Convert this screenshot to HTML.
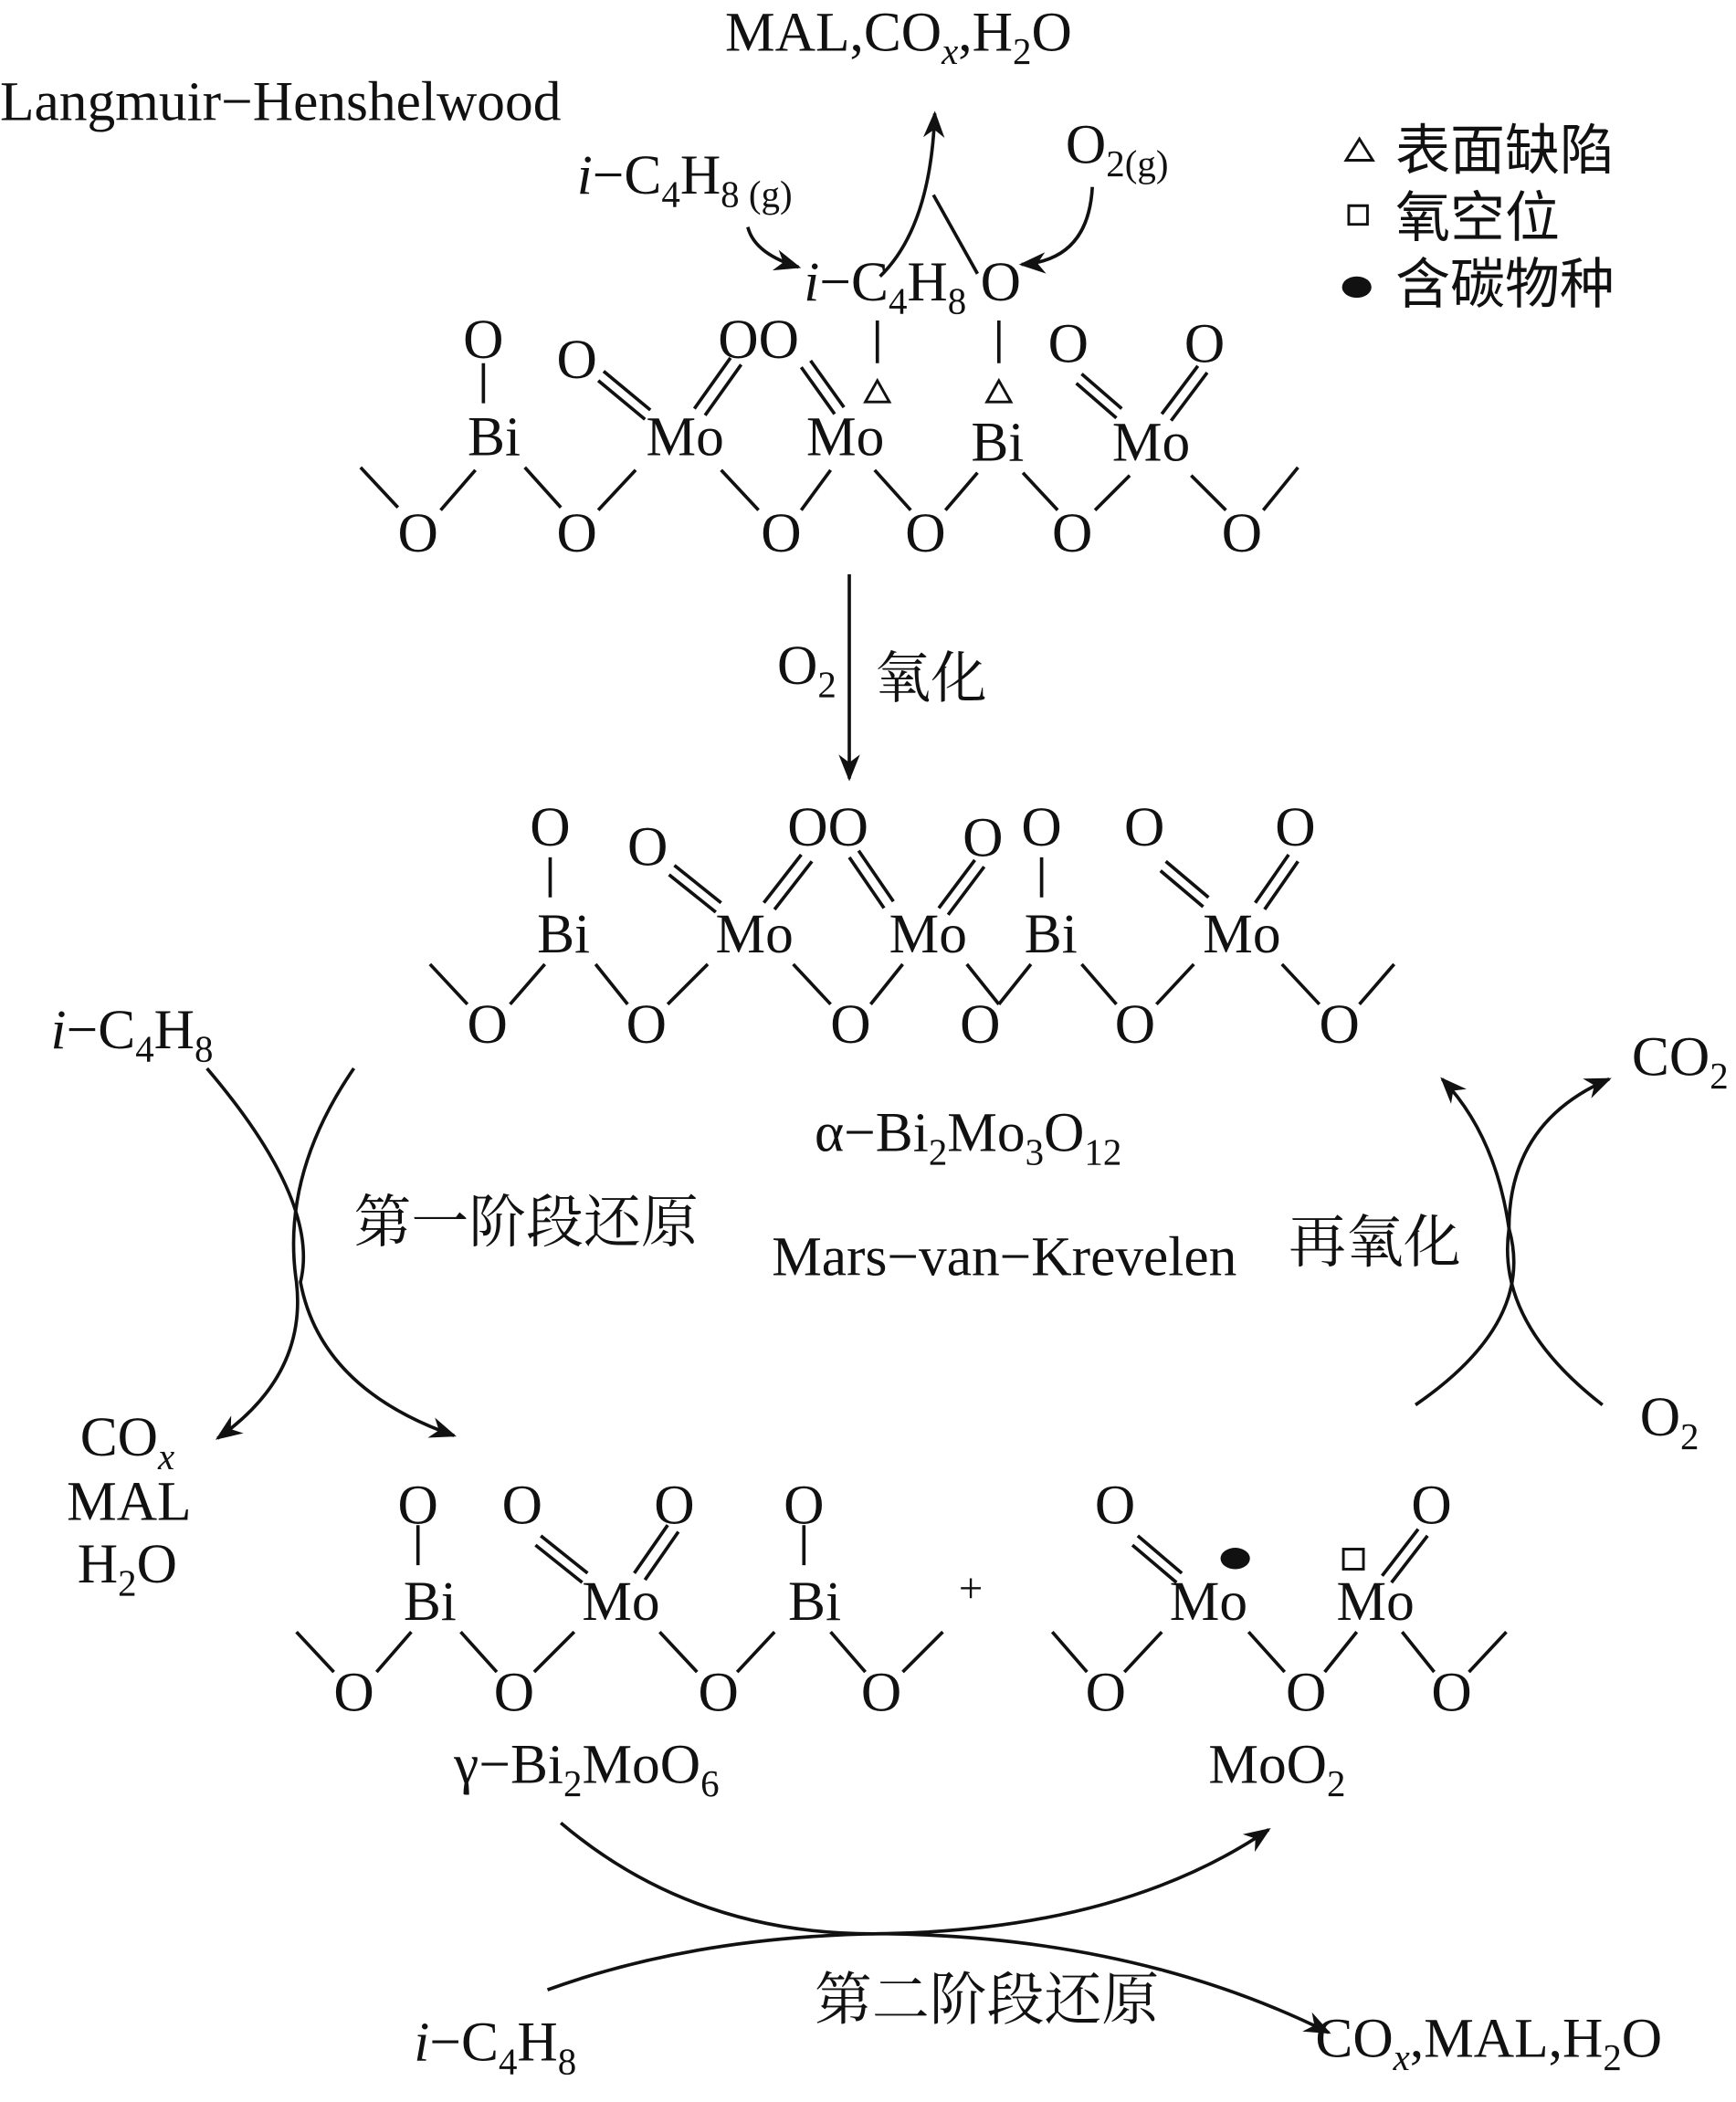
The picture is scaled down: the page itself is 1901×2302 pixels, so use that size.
<!DOCTYPE html>
<html><head><meta charset="utf-8"><style>html,body{margin:0;padding:0;background:#fff}svg{display:block}</style></head>
<body>
<svg width="1901" height="2302" viewBox="0 0 1300 1574" preserveAspectRatio="none" xmlns="http://www.w3.org/2000/svg" font-family="Liberation Serif, Noto Serif CJK SC, serif" font-size="42" fill="#111">
<defs>
<marker id="b" viewBox="0 0 10 10" refX="9" refY="5" markerWidth="20" markerHeight="20" orient="auto" markerUnits="userSpaceOnUse"><path d="M0,1 L10,5 L0,9 L3,5 z" fill="#111"/></marker></defs>
<g stroke="#111" stroke-width="2.5" fill="none">
<path d="M659,207 Q697,170 700,85" marker-end="url(#b)"/>
<path d="M699,146 L732,205"/>
<path d="M560,170 Q565,190 598,200" marker-end="url(#b)"/>
<path d="M818,140 Q815,195 765,198" marker-end="url(#b)"/>
<path d="M270,350 L298,380 M330,382 L356,352 M393,350 L420,380 M448,382 L476,352 M540,352 L568,382 M600,382 L622,352 M655,352 L682,382 M708,382 L732,354 M766,354 L792,382 M820,382 L846,356 M892,356 L918,382 M946,382 L972,350"/>
<path d="M362,272 L362,302 M657,240 L657,272 M748,240 L748,272"/>
<path d="M452,278 L487,307 M448,285 L483,314 M520,306 L547,268 M528,311 L555,273 M600,275 L625,310 M607,270 L632,305 M810,280 L840,306 M806,287 L836,313 M870,310 L897,274 M877,315 L904,279"/>
<path d="M648,301 L657,285 L666,301 Z M739,301 L748,285 L757,301 Z" stroke-width="2"/>
<path d="M636,430 L636,583" marker-end="url(#b)"/>
<path d="M322,722 L350,752 M382,752 L408,722 M446,722 L470,752 M500,752 L530,722 M594,722 L622,752 M652,752 L676,722 M724,722 L748,752 M748,752 L772,722 M810,722 L836,752 M866,752 L894,722 M960,722 L988,752 M1018,752 L1044,722"/>
<path d="M412,642 L412,672 M780,642 L780,672"/>
<path d="M505,648 L540,676 M501,655 L536,683 M572,676 L600,640 M580,681 L608,645 M636,642 L662,680 M643,637 L669,675 M703,680 L730,644 M710,685 L737,649 M873,645 L905,672 M869,652 L901,679 M940,676 L965,640 M947,681 L972,645"/>
<path d="M155,800 Q240,900 225,960 Q240,1040 340,1075" marker-end="url(#b)"/>
<path d="M265,800 Q210,880 222,960 Q230,1030 163,1077" marker-end="url(#b)"/>
<path d="M1060,1052 Q1150,990 1130,920 Q1120,850 1080,808" marker-end="url(#b)"/>
<path d="M1200,1052 Q1120,990 1130,920 Q1130,840 1205,808" marker-end="url(#b)"/>
<path d="M222,1222 L250,1252 M282,1252 L308,1222 M345,1222 L372,1252 M400,1252 L430,1222 M494,1222 L522,1252 M552,1252 L580,1222 M622,1222 L648,1252 M676,1252 L706,1222 M788,1222 L814,1252 M842,1252 L870,1222 M935,1222 L962,1252 M992,1252 L1016,1222 M1050,1222 L1074,1252 M1100,1252 L1128,1222"/>
<path d="M313,1142 L313,1172 M602,1142 L602,1172"/>
<path d="M405,1150 L440,1178 M401,1157 L436,1185 M475,1178 L500,1142 M483,1183 L508,1147 M852,1150 L885,1178 M848,1157 L881,1185 M1035,1180 L1062,1145 M1042,1185 L1069,1150"/>
<rect x="1006" y="1160" width="15" height="15" stroke-width="2"/>
<path d="M420,1365 Q520,1450 660,1448 Q840,1445 950,1370" marker-end="url(#b)"/>
<path d="M410,1490 Q520,1450 660,1448 Q850,1450 995,1522" marker-end="url(#b)"/>
<path d="M1008,120 L1018,104 L1028,120 Z M1010,154 L1024,154 L1024,168 L1010,168 Z" stroke-width="2"/>
</g>
<ellipse cx="925" cy="1167" rx="11" ry="8" fill="#111"/>
<ellipse cx="1016" cy="215" rx="11" ry="8" fill="#111"/>
<text x="543" y="38">MAL,CO<tspan font-size="28" font-style="italic" dy="10">x</tspan><tspan dy="-10">,H</tspan><tspan font-size="28" dy="10">2</tspan><tspan dy="-10">O</tspan></text>
<text x="0" y="90">Langmuir−Henshelwood</text>
<text x="432" y="145"><tspan font-style="italic">i</tspan>−C<tspan font-size="28" dy="10">4</tspan><tspan dy="-10">H</tspan><tspan font-size="28" dy="10">8 (g)</tspan></text>
<text x="798" y="122">O<tspan font-size="28" dy="10">2(g)</tspan></text>
<text x="602" y="225"><tspan font-style="italic">i</tspan>−C<tspan font-size="28" dy="10">4</tspan><tspan dy="-10">H</tspan><tspan font-size="28" dy="10">8</tspan><tspan dy="-10"> O</tspan></text>
<text x="1045" y="127" font-family="Noto Sans CJK SC, sans-serif" font-size="41">表面缺陷</text>
<text x="1045" y="177" font-family="Noto Sans CJK SC, sans-serif" font-size="41">氧空位</text>
<text x="1045" y="227" font-family="Noto Sans CJK SC, sans-serif" font-size="41">含碳物种</text>
<g text-anchor="middle">
<text x="362" y="268">O</text><text x="432" y="283">O</text><text x="568" y="268">OO</text><text x="800" y="271">O</text><text x="902" y="271">O</text>
<text x="370" y="341">Bi</text><text x="513" y="341">Mo</text><text x="633" y="341">Mo</text><text x="747" y="345">Bi</text><text x="862" y="345">Mo</text>
<text x="313" y="413">O</text><text x="432" y="413">O</text><text x="585" y="413">O</text><text x="693" y="413">O</text><text x="803" y="413">O</text><text x="930" y="413">O</text>
<text x="412" y="633">O</text><text x="485" y="648">O</text><text x="620" y="633">OO</text><text x="736" y="641">O</text><text x="780" y="633">O</text><text x="857" y="633">O</text><text x="970" y="633">O</text>
<text x="422" y="713">Bi</text><text x="565" y="713">Mo</text><text x="695" y="713">Mo</text><text x="787" y="713">Bi</text><text x="930" y="713">Mo</text>
<text x="365" y="781">O</text><text x="484" y="781">O</text><text x="637" y="781">O</text><text x="734" y="781">O</text><text x="850" y="781">O</text><text x="1003" y="781">O</text>
<text x="313" y="1141">O</text><text x="391" y="1141">O</text><text x="505" y="1141">O</text><text x="602" y="1141">O</text><text x="835" y="1141">O</text><text x="1072" y="1141">O</text>
<text x="322" y="1213">Bi</text><text x="465" y="1213">Mo</text><text x="610" y="1213">Bi</text><text x="727" y="1200" font-size="32">+</text><text x="905" y="1213">Mo</text><text x="1030" y="1213">Mo</text>
<text x="265" y="1281">O</text><text x="385" y="1281">O</text><text x="538" y="1281">O</text><text x="660" y="1281">O</text><text x="828" y="1281">O</text><text x="978" y="1281">O</text><text x="1087" y="1281">O</text>
</g>
<text x="582" y="512">O<tspan font-size="28" dy="10">2</tspan></text>
<text x="655" y="522" font-family="Noto Serif CJK SC, serif" font-size="42">氧化</text>
<text x="610" y="862">α−Bi<tspan font-size="28" dy="10">2</tspan><tspan dy="-10">Mo</tspan><tspan font-size="28" dy="10">3</tspan><tspan dy="-10">O</tspan><tspan font-size="28" dy="10">12</tspan></text>
<text x="578" y="955">Mars−van−Krevelen</text>
<text x="265" y="930" font-family="Noto Serif CJK SC, serif" font-size="43">第一阶段还原</text>
<text x="965" y="945" font-family="Noto Serif CJK SC, serif" font-size="43">再氧化</text>
<text x="38" y="785"><tspan font-style="italic">i</tspan>−C<tspan font-size="28" dy="10">4</tspan><tspan dy="-10">H</tspan><tspan font-size="28" dy="10">8</tspan></text>
<text x="1222" y="805">CO<tspan font-size="28" dy="10">2</tspan></text>
<text x="1228" y="1075">O<tspan font-size="28" dy="10">2</tspan></text>
<text x="60" y="1090">CO<tspan font-size="28" font-style="italic" dy="10">x</tspan></text>
<text x="50" y="1138">MAL</text>
<text x="58" y="1185">H<tspan font-size="28" dy="10">2</tspan><tspan dy="-10">O</tspan></text>
<text x="340" y="1335">γ−Bi<tspan font-size="28" dy="10">2</tspan><tspan dy="-10">MoO</tspan><tspan font-size="28" dy="10">6</tspan></text>
<text x="905" y="1335">MoO<tspan font-size="28" dy="10">2</tspan></text>
<text x="610" y="1512" font-family="Noto Serif CJK SC, serif" font-size="43">第二阶段还原</text>
<text x="310" y="1543"><tspan font-style="italic">i</tspan>−C<tspan font-size="28" dy="10">4</tspan><tspan dy="-10">H</tspan><tspan font-size="28" dy="10">8</tspan></text>
<text x="985" y="1540">CO<tspan font-size="28" font-style="italic" dy="10">x</tspan><tspan dy="-10">,MAL,H</tspan><tspan font-size="28" dy="10">2</tspan><tspan dy="-10">O</tspan></text>
</svg>
</body></html>
